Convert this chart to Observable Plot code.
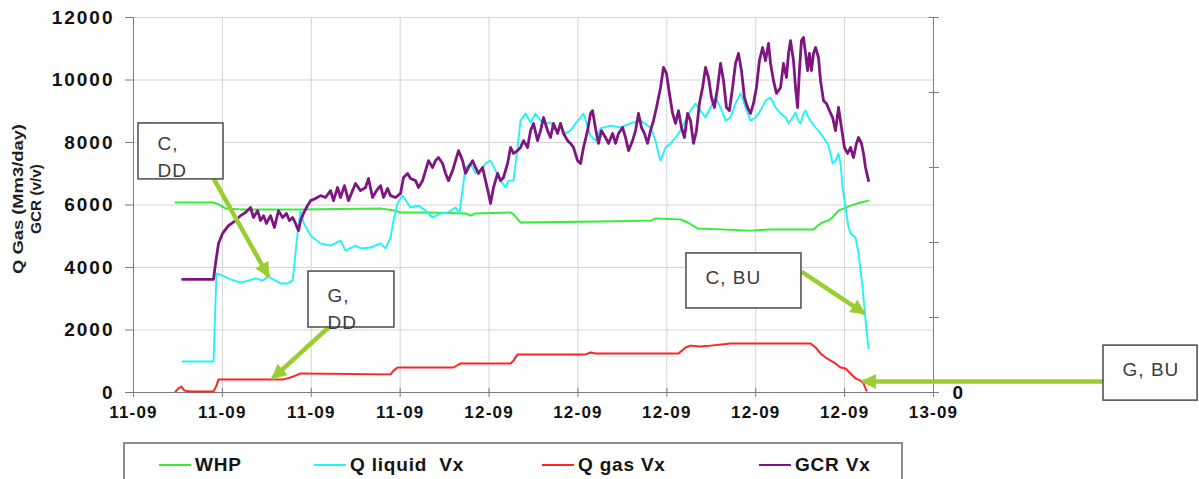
<!DOCTYPE html>
<html>
<head>
<meta charset="utf-8">
<script src="https://cdn.jsdelivr.net/npm/d3@7"></script>
<script src="https://cdn.jsdelivr.net/npm/@observablehq/plot@0.6"></script>
<style>
  html, body { margin: 0; padding: 0; background: #fff; }
  #wrap { position: relative; width: 1199px; height: 479px; overflow: hidden;
          font-family: "Liberation Sans", Arial, sans-serif; }
  #legend { position: absolute; left: 123px; top: 442px; width: 780px; height: 60px;
            box-sizing: border-box; border: 2px solid #8c8c8c; background: #fff; }
  .item { position: absolute; top: 10px; display: flex; align-items: center;
          font-weight: bold; font-size: 19px; letter-spacing: 0.8px; color: #151515; white-space: pre; }
  .swatch { width: 32px; height: 2px; margin-right: 4px; }
</style>
</head>
<body>
<div id="wrap">
  <div id="chart"></div>
  <div id="legend"></div>
</div>
<script>
// Time is kept as hours after 11-09 00:00; values in chart units.
const xStartHours = 4.8;
const xEndHours = 48;
const xTickHours = [4.8, 9.6, 14.4, 19.2, 24, 28.8, 33.6, 38.4, 43.2, 48];
const xTickLabels = ["11-09", "11-09", "11-09", "11-09", "12-09", "12-09", "12-09", "12-09", "12-09", "13-09"];
const yTicks = [0, 2000, 4000, 6000, 8000, 10000, 12000];
const rightTicks = [0, 2400, 4800, 7200, 9600, 12000];
const yTitleLines = ["Q Gas (Mm3/day)", "GCR (v/v)"];

const seriesNames = ["WHP", "Q liquid  Vx", "Q gas Vx", "GCR Vx"];
const seriesColors = ["#33ee33", "#22f4f4", "#ff2424", "#7e1580"];

// [hours, value]
const whp = [
  [7.07, 6080], [9.12, 6080], [9.39, 6020], [9.77, 5890], [10.58, 5860], [13.82, 5860],
  [18.14, 5890], [18.95, 5820], [19.22, 5760], [20.84, 5760], [22.73, 5730], [23.00, 5660],
  [23.27, 5730], [25.16, 5760], [25.32, 5700], [25.70, 5440], [30.02, 5470], [32.72, 5500],
  [32.99, 5570], [34.34, 5540], [34.72, 5440], [35.26, 5250], [36.50, 5220], [38.12, 5180],
  [39.20, 5220], [41.52, 5220], [41.90, 5410], [42.44, 5540], [42.87, 5820], [43.52, 5980],
  [44.06, 6080], [44.49, 6140]
];

const qLiquid = [
  [7.45, 990], [9.12, 990], [9.28, 3810], [9.61, 3740], [10.04, 3620], [10.58, 3520],
  [11.01, 3580], [11.39, 3650], [11.77, 3580], [12.09, 3710], [12.47, 3580], [12.74, 3490],
  [13.12, 3490], [13.39, 3580], [13.66, 5090], [13.82, 5820], [13.98, 5440], [14.36, 5020],
  [14.90, 4770], [15.44, 4700], [15.98, 4860], [16.25, 4540], [16.79, 4700], [17.06, 4610],
  [17.60, 4640], [18.14, 4770], [18.41, 4610], [18.68, 4960], [18.84, 5500], [19.06, 6050],
  [19.33, 6300], [19.76, 5920], [20.19, 5980], [20.57, 5820], [20.95, 5600], [21.38, 5730],
  [21.76, 5760], [22.19, 5920], [22.40, 5730], [22.73, 7200], [23.00, 7330], [23.27, 7010],
  [23.54, 7100], [23.81, 7330], [24.08, 7420], [24.35, 7100], [24.62, 6780], [24.89, 6560],
  [25.05, 6780], [25.32, 6780], [25.54, 7840], [25.70, 8700], [25.97, 8930], [26.24, 8640],
  [26.51, 8930], [26.78, 8700], [27.05, 8610], [27.32, 8640], [27.59, 8380], [27.86, 8480],
  [28.13, 8290], [28.40, 8380], [28.67, 8610], [28.94, 8800], [29.10, 8930], [29.48, 8220],
  [29.75, 8060], [30.02, 8450], [30.56, 8540], [31.10, 8480], [31.64, 8610], [32.18, 8700],
  [32.72, 8480], [32.99, 8060], [33.15, 7650], [33.26, 7420], [33.53, 7840], [33.80, 7970],
  [34.07, 8160], [34.34, 8380], [34.61, 8700], [34.88, 9020], [35.15, 9250], [35.42, 9020],
  [35.69, 8800], [35.96, 9120], [36.23, 9440], [36.50, 9120], [36.77, 8700], [37.04, 8800],
  [37.31, 9250], [37.58, 9570], [37.85, 9120], [38.12, 8700], [38.39, 8800], [38.66, 9020],
  [38.93, 9340], [39.20, 9440], [39.47, 9120], [39.74, 8930], [40.01, 8800], [40.17, 8610],
  [40.39, 8800], [40.55, 8960], [40.71, 8700], [40.82, 8610], [40.98, 8930], [41.09, 9020],
  [41.25, 8800], [41.47, 8610], [41.63, 8480], [41.90, 8290], [42.17, 8060], [42.33, 7900],
  [42.44, 7650], [42.55, 7330], [42.71, 7420], [42.87, 7650], [42.98, 7330], [43.09, 6560],
  [43.25, 5920], [43.41, 5280], [43.52, 5090], [43.79, 4960], [43.95, 4450], [44.17, 3360],
  [44.33, 2300], [44.49, 1410]
];

const qGas = [
  [7.07, 30], [7.23, 130], [7.39, 190], [7.55, 60], [7.88, 30], [9.12, 30], [9.28, 220],
  [9.39, 420], [12.90, 420], [13.28, 480], [13.55, 540], [13.82, 610], [18.68, 580],
  [18.84, 700], [19.06, 800], [22.08, 800], [22.46, 930], [25.16, 930], [25.32, 1020],
  [25.54, 1220], [29.21, 1220], [29.48, 1280], [29.75, 1250], [34.23, 1250], [34.61, 1440],
  [34.88, 1500], [35.42, 1470], [35.96, 1500], [37.04, 1570], [41.36, 1570], [41.63, 1440],
  [41.90, 1250], [42.17, 1120], [42.44, 1020], [42.71, 930], [42.98, 800], [43.25, 770],
  [43.52, 610], [43.79, 450], [44.06, 380], [44.22, 290], [44.38, 60]
];

const gcr = [
  [7.45, 3620], [9.12, 3620], [9.23, 4130], [9.39, 4770], [9.61, 5090], [9.93, 5340],
  [10.31, 5500], [10.58, 5660], [10.85, 5760], [11.12, 5920], [11.28, 5600], [11.50, 5820],
  [11.66, 5500], [11.82, 5660], [11.98, 5410], [12.20, 5660], [12.41, 5280], [12.63, 5820],
  [12.85, 5600], [13.06, 5730], [13.22, 5500], [13.39, 5600], [13.55, 5410], [13.71, 5180],
  [13.82, 5500], [13.98, 5730], [14.14, 5920], [14.36, 6140], [14.63, 6210], [14.90, 6300],
  [15.17, 6240], [15.44, 6460], [15.60, 6140], [15.82, 6560], [15.98, 6240], [16.19, 6620],
  [16.41, 6140], [16.63, 6460], [16.79, 6690], [17.06, 6460], [17.33, 6560], [17.49, 6850],
  [17.71, 6240], [17.92, 6460], [18.14, 6620], [18.30, 6240], [18.52, 6530], [18.68, 6300],
  [18.95, 6240], [19.22, 6370], [19.38, 6880], [19.60, 7010], [19.76, 6850], [20.03, 6780],
  [20.19, 6560], [20.41, 6780], [20.57, 7100], [20.73, 7420], [20.95, 7200], [21.11, 7420],
  [21.27, 7520], [21.49, 7330], [21.65, 7010], [21.81, 6780], [22.03, 7100], [22.19, 7420],
  [22.35, 7740], [22.57, 7420], [22.73, 7010], [22.89, 7200], [23.11, 7420], [23.27, 7200],
  [23.43, 7010], [23.65, 7200], [23.81, 6780], [23.97, 6370], [24.08, 6050], [24.24, 6560],
  [24.46, 7010], [24.62, 6780], [24.78, 6880], [25.00, 7330], [25.16, 7840], [25.32, 7650],
  [25.54, 7740], [25.70, 7840], [25.86, 8060], [26.08, 7840], [26.24, 8380], [26.40, 8610],
  [26.62, 8060], [26.78, 8380], [26.94, 8800], [27.16, 8380], [27.32, 8160], [27.48, 8610],
  [27.70, 8290], [27.86, 8610], [28.02, 8290], [28.24, 8060], [28.40, 7970], [28.56, 7840],
  [28.78, 7420], [28.94, 7330], [29.10, 7840], [29.32, 8380], [29.48, 8930], [29.59, 9020],
  [29.75, 8450], [29.91, 7970], [30.07, 8380], [30.29, 8160], [30.45, 7970], [30.67, 8290],
  [30.83, 7970], [30.99, 8290], [31.21, 8480], [31.37, 8160], [31.53, 7740], [31.75, 8060],
  [31.91, 8380], [32.07, 8930], [32.23, 8480], [32.39, 8290], [32.56, 7970], [32.72, 8380],
  [32.88, 8700], [33.04, 9120], [33.26, 9760], [33.42, 10400], [33.58, 10210], [33.74, 9570],
  [33.91, 8930], [34.07, 8610], [34.23, 9020], [34.39, 8480], [34.55, 8160], [34.72, 8930],
  [34.88, 8700], [35.04, 7970], [35.20, 8380], [35.36, 9250], [35.53, 9760], [35.69, 10400],
  [35.85, 10080], [36.01, 9440], [36.17, 9120], [36.34, 9760], [36.50, 10530], [36.66, 9980],
  [36.82, 9120], [36.98, 9020], [37.15, 9760], [37.31, 10530], [37.47, 10850], [37.63, 10300],
  [37.79, 9440], [37.96, 9120], [38.12, 8930], [38.28, 9250], [38.44, 9760], [38.60, 10620],
  [38.77, 11040], [38.93, 10620], [39.09, 11170], [39.20, 10530], [39.36, 9980], [39.52, 9570],
  [39.74, 9760], [39.90, 10530], [40.06, 10080], [40.17, 10850], [40.28, 11260], [40.44, 10620],
  [40.55, 9760], [40.66, 9120], [40.76, 10300], [40.87, 11260], [40.98, 11360], [41.09, 10850],
  [41.20, 10300], [41.30, 10850], [41.41, 10300], [41.52, 10850], [41.63, 11040], [41.79, 10720],
  [41.90, 9980], [42.06, 9340], [42.22, 9250], [42.38, 9020], [42.55, 8800], [42.71, 8380],
  [42.87, 9120], [43.03, 8480], [43.19, 7840], [43.36, 7650], [43.52, 7840], [43.68, 7520],
  [43.84, 7970], [43.95, 8160], [44.11, 7970], [44.22, 7650], [44.33, 7200], [44.49, 6780]
];

// Callout boxes: [hours from, hours to, value from, value to]; arrows run tail -> tip.
const calloutText = ["C,\nDD", "G,\nDD", "C, BU", "G, BU"];
const calloutBox = [[5.07, 9.66, 6820, 8610], [14.25, 18.89, 2080, 3870], [34.66, 40.87, 2690, 4450], [57.18, 62.26, -260, 1500]];
const calloutTextAt = [[6.10, 8370], [15.28, 3520], [35.69, 4090], [58.21, 1150]];
const calloutTail = [[9.12, 6850], [15.33, 2080], [40.87, 3870], [57.18, 350]];
const calloutTip = [[12.09, 3710], [12.31, 450], [44.27, 2530], [44.17, 350]];

const base = Date.UTC(2009, 8, 11);
const toDate = (h) => new Date(base + Math.round(h * 3600e3));
const xTickDates = xTickHours.map(toDate);
const tickLabelByTime = new Map(xTickDates.map((d, i) => [+d, xTickLabels[i]]));

const series = [whp, qLiquid, qGas, gcr];
const widths = [2, 1.9, 2, 2.8];
const lineMarks = series.map((s, i) =>
  Plot.line(s, { x: (d) => toDate(d[0]), y: (d) => d[1], stroke: seriesColors[i], strokeWidth: widths[i], strokeLinejoin: "round" })
);

const callouts = calloutText.map((text, i) => ({
  text, box: calloutBox[i], at: calloutTextAt[i], tail: calloutTail[i], tip: calloutTip[i]
}));

const font = "'Liberation Sans', Arial, sans-serif";
const axisGray = "#7a7a7a";

const chart = Plot.plot({
  width: 1199,
  height: 440,
  marginLeft: 133,
  marginRight: 266,
  marginTop: 17,
  marginBottom: 48,
  style: { fontFamily: font, background: "white", overflow: "visible", color: "#111" },
  x: { type: "utc", domain: [toDate(xStartHours), toDate(xEndHours)] },
  y: { domain: [0, 12000] },
  marks: [
    Plot.gridY(yTicks, { stroke: "#d4d4d4", strokeOpacity: 1 }),
    Plot.gridX(xTickDates, { stroke: "#d4d4d4", strokeOpacity: 1 }),
    Plot.ruleX([toDate(xStartHours), toDate(xEndHours)], { stroke: axisGray }),
    Plot.ruleY([0], { stroke: axisGray }),
    Plot.axisY({ ticks: yTicks, tickSize: 8, tickPadding: 11, fontSize: 19, fontWeight: "bold",
                 stroke: axisGray, fill: "#111", label: null, tickFormat: (d) => String(d) }),
    Plot.axisY({ anchor: "right", ticks: rightTicks, tickSize: 5, tickPadding: 14, fontSize: 19, fontWeight: "bold",
                 stroke: axisGray, fill: "#111", label: null, tickFormat: (d) => (d === 0 ? "0" : "") }),
    Plot.axisY({ anchor: "right", ticks: rightTicks, tickSize: -5, stroke: axisGray, label: null, tickFormat: () => "" }),
    Plot.axisX({ ticks: xTickDates, tickSize: 5, tickPadding: 8, fontSize: 17, fontWeight: "bold",
                 stroke: axisGray, fill: "#111", label: null, tickFormat: (d) => tickLabelByTime.get(+d) }),
    Plot.axisX({ ticks: xTickDates, tickSize: -4, stroke: axisGray, label: null, tickFormat: () => "" }),
    ...lineMarks,
    Plot.link(callouts, { x1: (d) => toDate(d.tail[0]), y1: (d) => d.tail[1],
                          x2: (d) => toDate(d.tip[0]), y2: (d) => d.tip[1],
                          stroke: "#9acd32", strokeWidth: 4.5 }),
    Plot.rect(callouts, { x1: (d) => toDate(d.box[0]), x2: (d) => toDate(d.box[1]),
                          y1: (d) => d.box[2], y2: (d) => d.box[3],
                          fill: "white", stroke: "#555", strokeWidth: 1.6 }),
    Plot.text(callouts, { x: (d) => toDate(d.at[0]), y: (d) => d.at[1], text: "text",
                          textAnchor: "start", lineAnchor: "top", fontSize: 19, lineHeight: 1.42, fill: "#3d3d3d" })
  ]
});

const svg = d3.select(chart);

// Wider spacing on tick labels and callout text
svg.selectAll("g[aria-label='y-axis tick label'] text").style("letter-spacing", "2px");
svg.selectAll("g[aria-label='x-axis tick label'] text").style("letter-spacing", "1.2px");
svg.selectAll("g[aria-label='text'] text").style("letter-spacing", "1px");

// Filled arrowheads on the callout links
svg.insert("defs", ":first-child")
  .append("marker")
  .attr("id", "callout-head")
  .attr("viewBox", "0 0 10 10")
  .attr("refX", 9)
  .attr("refY", 5)
  .attr("markerUnits", "userSpaceOnUse")
  .attr("markerWidth", 17)
  .attr("markerHeight", 15)
  .attr("orient", "auto")
  .append("path")
  .attr("d", "M0,0L10,5L0,10Z")
  .attr("fill", "#9acd32");
svg.selectAll("g[aria-label='link'] path").attr("marker-end", "url(#callout-head)");

// Two-line vertical axis title
const titleCenterX = [18, 36];
const titleLength = [150, 70];
const titleG = svg.append("g").attr("font-size", 14).attr("font-weight", "bold").attr("fill", "#1e1e1e");
yTitleLines.forEach((line, i) => {
  titleG.append("text")
    .attr("transform", `translate(${titleCenterX[i]},199) rotate(-90)`)
    .attr("text-anchor", "middle")
    .attr("dominant-baseline", "central")
    .attr("textLength", titleLength[i])
    .attr("lengthAdjust", "spacingAndGlyphs")
    .text(line);
});

document.getElementById("chart").appendChild(chart);

// Legend
const legendOffsets = [34, 189, 417, 634];
const legend = d3.select("#legend");
seriesNames.forEach((name, i) => {
  const item = legend.append("div").attr("class", "item").style("left", legendOffsets[i] + "px");
  item.append("div").attr("class", "swatch").style("background", seriesColors[i]);
  item.append("span").text(name);
});
</script>
</body>
</html>
